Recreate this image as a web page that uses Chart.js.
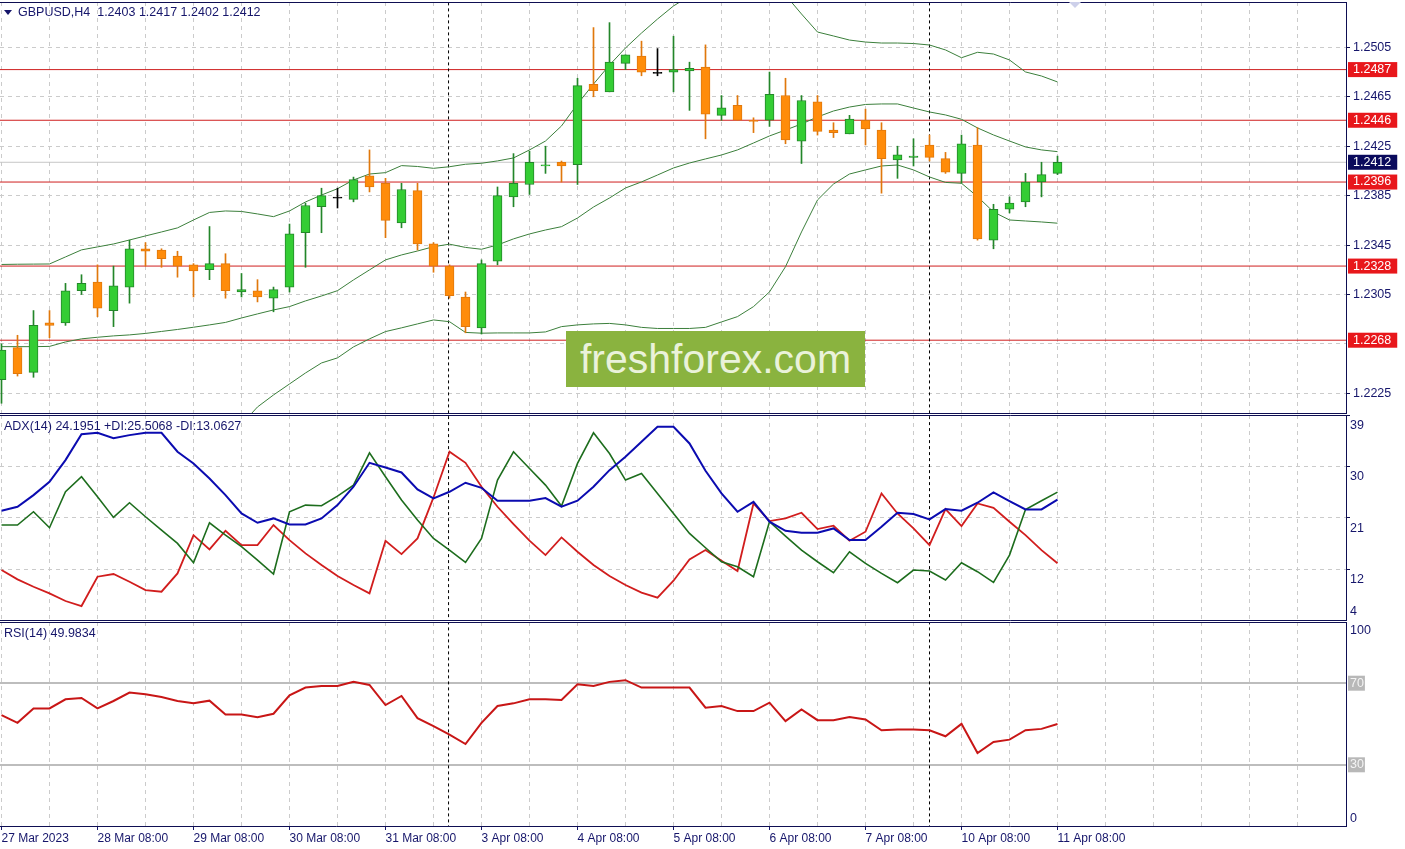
<!DOCTYPE html>
<html>
<head>
<meta charset="utf-8">
<script src="https://cdn.jsdelivr.net/npm/chart.js@4.4.1/dist/chart.umd.min.js"></script>
<style>
  body { margin:0; background:#fff; width:1405px; height:849px; overflow:hidden; position:relative;
         font-family:"Liberation Sans", Arial, sans-serif; }
  canvas { position:absolute; left:0; }
  .txt { position:absolute; font-size:12.5px; line-height:14px; color:#16166b; white-space:pre; }
  #mark { position:absolute; left:566px; top:331px; width:299px; height:56px; background:#8ab33f;
          color:#eaf2da; font-size:41px; line-height:56px; text-align:center; }
  #tri { position:absolute; left:4px; top:10px; width:0; height:0;
         border-left:4px solid transparent; border-right:4px solid transparent; border-top:5px solid #16166b; }
  #shift { position:absolute; left:1069px; top:2px; width:0; height:0;
           border-left:6px solid transparent; border-right:6px solid transparent; border-top:6px solid #cdd0ea; }
</style>
</head>
<body>
<canvas id="price" width="1405" height="415" style="top:0;width:1405px;height:415px"></canvas>
<canvas id="adx" width="1405" height="210" style="top:414px;width:1405px;height:210px"></canvas>
<canvas id="rsi" width="1405" height="229" style="top:620px;width:1405px;height:229px"></canvas>
<div id="tri"></div>
<div class="txt" style="left:18px;top:5px">GBPUSD,H4  1.2403 1.2417 1.2402 1.2412</div>
<div class="txt" style="left:4px;top:419px">ADX(14) 24.1951 +DI:25.5068 -DI:13.0627</div>
<div class="txt" style="left:4px;top:626px">RSI(14) 49.9834</div>
<div id="shift"></div>
<div id="mark">freshforex.com</div>
<script>
// GBPUSD H4, bar 0 = 27 Mar 08:00, bar 66 = 11 Apr 08:00
var opens  = [1.2236,1.2262,1.2242,1.2282,1.2282,1.2308,1.2315,1.2292,1.2311,1.2342,
              1.2341,1.2336,1.2329,1.2325,1.2330,1.2307,1.2308,1.2302,1.2311,1.2355,
              1.2376,1.2383,1.2382,1.2401,1.2395,1.2363,1.2389,1.2346,1.2328,1.2303,
              1.2278,1.2332,1.2384,1.2394,1.2409,1.2412,1.2410,1.2475,1.2469,1.2492,
              1.2498,1.2484,1.2485,1.2486,1.2489,1.2450,1.2458,1.2446,1.2446,1.2466,
              1.2429,1.2461,1.2438,1.2435,1.2446,1.2438,1.2414,1.2416,1.2426,1.2415,
              1.2403,1.2426,1.2349,1.2374,1.2380,1.2396,1.2403];
var highs  = [1.2265,1.2272,1.2292,1.2292,1.2314,1.2321,1.2329,1.2328,1.2349,1.2347,
              1.2342,1.2340,1.2330,1.2360,1.2338,1.2322,1.2317,1.2311,1.2362,1.2379,
              1.2391,1.2391,1.2400,1.2422,1.2399,1.2395,1.2395,1.2347,1.2329,1.2307,
              1.2333,1.2392,1.2419,1.2421,1.2425,1.2413,1.2480,1.2521,1.2525,1.2499,
              1.2510,1.2504,1.2514,1.2493,1.2507,1.2466,1.2466,1.2448,1.2485,1.2480,
              1.2466,1.2466,1.2444,1.2450,1.2455,1.2444,1.2425,1.2431,1.2434,1.2420,
              1.2434,1.2440,1.2378,1.2384,1.2403,1.2412,1.2417];
var lows   = [1.2217,1.2239,1.2238,1.2270,1.2280,1.2305,1.2287,1.2279,1.2298,1.2328,
              1.2327,1.2319,1.2303,1.2317,1.2302,1.2303,1.2299,1.2291,1.2307,1.2327,
              1.2355,1.2375,1.2380,1.2388,1.2351,1.2359,1.2341,1.2323,1.2302,1.2274,
              1.2273,1.2329,1.2376,1.2386,1.2403,1.2396,1.2394,1.2465,1.2469,1.2487,
              1.2482,1.2482,1.2469,1.2454,1.2431,1.2446,1.2446,1.2436,1.2441,1.2427,
              1.2411,1.2434,1.2432,1.2435,1.2426,1.2387,1.2399,1.2409,1.2413,1.2403,
              1.2395,1.2349,1.2342,1.2371,1.2376,1.2384,1.2402];
var closes = [1.2260,1.2241,1.2280,1.2280,1.2308,1.2314,1.2294,1.2312,1.2342,1.2340,
              1.2334,1.2328,1.2324,1.2330,1.2308,1.2309,1.2303,1.2309,1.2354,1.2377,
              1.2385,1.2383,1.2398,1.2392,1.2365,1.2390,1.2346,1.2328,1.2304,1.2279,
              1.2330,1.2385,1.2395,1.2412,1.2410,1.2409,1.2474,1.2470,1.2493,1.2499,
              1.2485,1.2484,1.2487,1.2488,1.2451,1.2456,1.2446,1.2445,1.2467,1.2430,
              1.2462,1.2437,1.2436,1.2447,1.2439,1.2415,1.2418,1.2417,1.2416,1.2404,
              1.2427,1.2350,1.2374,1.2379,1.2396,1.2402,1.2412];

var bbUpper  = [1.23293,1.23295,1.23296,1.23297,1.23354,1.23411,1.23435,1.23459,1.23491,1.23524,
                1.23556,1.23589,1.23653,1.23714,1.23726,1.23722,1.23702,1.2368,1.23726,1.23799,
                1.23855,1.23906,1.23977,1.24025,1.24036,1.24093,1.24086,1.24071,1.24084,1.24104,
                1.24112,1.24131,1.24155,1.2422,1.24292,1.24414,1.24592,1.24753,1.24907,1.25045,
                1.25166,1.25279,1.25385,1.25465,1.25522,1.25554,1.2557,1.25579,1.25554,1.25473,
                1.2532,1.25174,1.25142,1.25109,1.25093,1.25085,1.25085,1.25081,1.25069,1.25029,
                1.24966,1.2501,1.24996,1.24948,1.24851,1.24818,1.2477];
var bbMiddle = [1.22628,1.22628,1.22628,1.2263,1.22666,1.22691,1.22704,1.22715,1.22723,1.22735,
                1.22751,1.22767,1.22785,1.22804,1.22824,1.2286,1.22893,1.22925,1.22952,1.22998,
                1.23038,1.23081,1.23168,1.23249,1.2333,1.2337,1.23402,1.23437,1.23457,1.23431,
                1.23416,1.23451,1.235,1.2354,1.23572,1.23599,1.23669,1.23758,1.23831,1.23912,
                1.23961,1.24017,1.24074,1.24114,1.24147,1.24179,1.2422,1.24276,1.24333,1.24381,
                1.2443,1.24487,1.24535,1.24567,1.24588,1.24592,1.24592,1.24559,1.24527,1.24503,
                1.24468,1.24398,1.24341,1.24292,1.24244,1.2422,1.24206];
var bbLower  = [1.21962,1.21962,1.21962,1.21962,1.21979,1.2197,1.21974,1.2197,1.21954,1.21946,
                1.21946,1.21946,1.21917,1.21895,1.21922,1.21999,1.2214,1.22237,1.22326,1.22415,
                1.22496,1.22537,1.22626,1.22691,1.2275,1.2278,1.22812,1.22844,1.2283,1.22743,
                1.22737,1.22739,1.22739,1.22739,1.22747,1.2279,1.22804,1.22812,1.22816,1.22804,
                1.22784,1.22775,1.22775,1.22775,1.22784,1.22828,1.22871,1.22952,1.23071,1.23275,
                1.23556,1.23815,1.23944,1.24025,1.24058,1.2409,1.24098,1.24058,1.24001,1.23957,
                1.2395,1.23842,1.23718,1.23653,1.23645,1.23637,1.23627];

var adxMain = [22.25,22.95,24.99,27.32,31.11,35.65,35.89,34.95,35.48,35.89,
               35.89,32.57,30.53,27.9,24.99,21.78,20.15,20.91,19.86,19.86,
               20.91,23.24,26.45,30.64,29.83,28.95,25.98,24.41,25.57,27.15,
               26.27,24.0,24.0,24.0,24.47,22.95,24.0,26.45,29.36,31.69,
               34.31,36.94,36.94,34.02,29.24,25.28,22.08,23.82,20.33,18.75,
               18.4,18.4,19.16,17.12,17.12,19.45,21.9,21.67,20.74,22.54,
               22.25,23.65,25.46,23.94,22.48,22.48,24.2];
var plusDI  = [19.75,19.75,22.08,19.28,25.57,28.2,24.7,21.09,23.65,21.2,
               18.87,16.54,13.16,20.15,17.98,15.96,13.63,11.18,22.08,23.24,
               23.12,24.82,26.74,32.39,28.2,24.12,20.62,17.41,15.37,13.22,
               17.41,27.61,32.57,29.65,26.74,23.07,30.53,35.89,32.27,27.61,
               28.78,25.28,21.78,18.29,15.78,13.33,12.46,10.71,20.33,17.82,
               15.37,13.33,11.41,15.08,13.04,11.29,9.66,11.88,11.7,10.13,
               13.16,11.59,9.72,14.5,22.48,24.0,25.51];
var minusDI = [11.88,10.25,8.96,7.8,6.46,5.58,10.71,11.18,9.84,8.38,
               8.09,11.29,17.98,15.49,18.75,16.25,16.25,19.75,17.12,14.79,
               12.75,10.83,9.26,7.8,17.01,14.67,17.41,24.58,32.57,30.64,
               26.45,22.95,19.92,17.01,14.5,17.59,15.08,12.75,10.83,9.26,
               7.92,7.04,10.01,13.74,15.37,13.51,11.7,23.53,20.44,20.91,
               21.9,19.05,19.63,17.01,18.58,25.28,21.78,19.16,16.25,22.54,
               19.57,23.53,22.77,20.33,17.98,15.37,13.06];
var rsiLine = [54.36,50.57,57.65,57.65,62.09,62.75,57.65,61.27,65.39,64.56,
               63.25,61.27,60.12,61.44,54.69,54.69,53.37,55.02,64.07,67.86,
               68.68,68.68,70.65,69.17,59.3,63.74,52.88,48.93,44.81,40.2,
               50.57,58.8,60.12,62.09,62.09,61.76,69.5,68.68,70.65,71.48,
               67.86,67.86,67.86,67.86,57.98,58.8,56.33,56.33,60.45,51.39,
               57.16,51.89,51.89,53.37,52.22,46.95,47.28,47.28,46.95,43.99,
               50.08,35.76,41.19,42.34,46.95,47.61,49.98];

var levels      = [1.2487, 1.2446, 1.2396, 1.2328, 1.2268];
var lastPrice   = 1.2412;
var priceTicks  = [1.2505, 1.2465, 1.2425, 1.2385, 1.2345, 1.2305, 1.2265, 1.2225];
var hiddenTicks = [1.2265];
// ADX scale: grid ticks plus where the bottom "4" caption sits
var adxTicks    = [39, 30, 21, 12, 6.38];
var adxTickText = ['39', '30', '21', '12', '4'];
var adxGrid     = [30, 21, 12];
// RSI scale: caption positions for 100 / 0 sit just inside the panel
var rsiTicks    = [95.7, 70, 30, 3.8];
var rsiTickText = ['100', '70', '30', '0'];
var rsiLevels   = [70, 30];
var timeLabels  = ['27 Mar 2023', '28 Mar 08:00', '29 Mar 08:00', '30 Mar 08:00', '31 Mar 08:00',
                   '3 Apr 08:00', '4 Apr 08:00', '5 Apr 08:00', '6 Apr 08:00', '7 Apr 08:00',
                   '10 Apr 08:00', '11 Apr 08:00'];
var separators  = [27.94, 58];

var NAVY = '#16166b';
var FRAME = '#0e0e52';
var GRID = '#cbcbcb';
var NONE = 'rgba(0,0,0,0)';

Chart.defaults.font.family = '"Liberation Sans", Arial, sans-serif';

function pts(arr) {
  return arr.map(function(v, i) { return {x: i, y: v}; });
}
function tickVal(ctx) {
  return ctx.tick ? ctx.tick.value : null;
}

var bodyFill = opens.map(function(o, i) {
  return closes[i] > o ? '#34cd34' : (closes[i] < o ? '#ff8c0a' : '#000000');
});
var bodyEdge = opens.map(function(o, i) {
  return closes[i] > o ? '#23862a' : (closes[i] < o ? '#e0780c' : '#000000');
});

// panel borders (top, bottom, right axis line)
var frame = {
  id: 'frame',
  afterDraw: function(chart) {
    var a = chart.chartArea, c = chart.ctx;
    c.save();
    c.strokeStyle = FRAME;
    c.lineWidth = 1;
    c.beginPath();
    c.moveTo(a.left, a.top + 0.5); c.lineTo(a.right + 1, a.top + 0.5);
    c.moveTo(a.left, a.bottom + 0.5); c.lineTo(a.right + 1, a.bottom + 0.5);
    c.moveTo(a.right + 0.5, a.top); c.lineTo(a.right + 0.5, a.bottom + 1);
    c.stroke();
    c.restore();
  }
};

function noPad(s) {
  s.paddingTop = 0; s.paddingBottom = 0; s.paddingLeft = 0; s.paddingRight = 0;
}

function xAxis(withLabels) {
  return {
    type: 'linear', min: -0.09375, max: 84.03125, offset: false,
    afterBuildTicks: function(s) {
      var t = [];
      for (var v = 0; v <= 81; v += 3) t.push({value: v});
      s.ticks = t;
    },
    afterFit: function(s) { s.height = withLabels ? 23 : 0; noPad(s); },
    grid: {
      offset: false, color: GRID, lineWidth: 1, drawTicks: withLabels, tickLength: 4,
      tickColor: function(ctx) {
        var v = tickVal(ctx);
        return (v !== null && v % 6 === 0 && timeLabels[v / 6]) ? NAVY : NONE;
      }
    },
    border: { display: false, dash: [4, 4] },
    ticks: {
      display: withLabels, autoSkip: false, maxRotation: 0, minRotation: 0, align: 'start',
      padding: 1, color: NAVY, font: { size: 12 },
      callback: function(v) { return (v % 6 === 0 && timeLabels[v / 6]) || ''; }
    }
  };
}

function baseOptions(x, y, pad) {
  return {
    responsive: false, animation: false, events: [],
    layout: { padding: pad, autoPadding: false },
    plugins: { legend: { display: false }, tooltip: { enabled: false } },
    scales: { x: x, y: y }
  };
}

function flatLine(value, color, width) {
  return { type: 'line', data: [{x: -5, y: value}, {x: 90, y: value}], borderColor: color,
           borderWidth: width, pointRadius: 0, order: 5 };
}
function vLine(xv, lo, hi) {
  return { type: 'line', data: [{x: xv, y: lo}, {x: xv, y: hi}], borderColor: '#000000',
           borderWidth: 1, borderDash: [3, 3], pointRadius: 0, order: 4 };
}

// ---------- price panel ----------
var priceSets = [
  { type: 'bar', data: opens.map(function(o, i) { return {x: i, y: [o, closes[i]]}; }),
    backgroundColor: bodyFill, borderColor: bodyEdge, borderWidth: 1, borderSkipped: false,
    barThickness: 9, minBarLength: 1, grouped: false, order: 0 },
  { type: 'bar', data: lows.map(function(l, i) { return {x: i, y: [l, highs[i]]}; }),
    backgroundColor: bodyEdge, borderWidth: 0, barThickness: 1, grouped: false, order: 1 },
  { type: 'line', data: pts(bbUpper), borderColor: '#3b7f3b', borderWidth: 1, pointRadius: 0, order: 2 },
  { type: 'line', data: pts(bbMiddle), borderColor: '#3b7f3b', borderWidth: 1, pointRadius: 0, order: 2 },
  { type: 'line', data: pts(bbLower), borderColor: '#3b7f3b', borderWidth: 1, pointRadius: 0, order: 2 },
  flatLine(lastPrice, '#c6c6c6', 1)
];
levels.forEach(function(lv) { priceSets.push(flatLine(lv, '#cf1f1f', 1)); });
separators.forEach(function(s) { priceSets.push(vLine(s, 1.2, 1.3)); });

function isLevel(v) { return levels.indexOf(v) >= 0; }
function isPlain(v) { return priceTicks.indexOf(v) >= 0; }

new Chart(document.getElementById('price'), {
  type: 'line',
  data: { datasets: priceSets },
  options: baseOptions(xAxis(false), {
    position: 'right', min: 1.22091, max: 1.25417,
    afterBuildTicks: function(s) {
      s.ticks = priceTicks.concat(levels, [lastPrice]).map(function(v) { return {value: v}; });
    },
    afterFit: function(s) { s.width = 59; noPad(s); },
    grid: {
      lineWidth: 1, drawTicks: true, tickLength: 4,
      color: function(ctx) { return isPlain(tickVal(ctx)) ? GRID : NONE; },
      tickColor: function(ctx) { return isPlain(tickVal(ctx)) && hiddenTicks.indexOf(tickVal(ctx)) < 0 ? FRAME : NONE; }
    },
    border: { display: false, dash: [4, 4] },
    ticks: {
      autoSkip: false, padding: 3, font: { size: 12.5 },
      color: function(ctx) { return isPlain(tickVal(ctx)) ? NAVY : '#ffffff'; },
      showLabelBackdrop: function(ctx) { return !isPlain(tickVal(ctx)); },
      backdropColor: function(ctx) { return isLevel(tickVal(ctx)) ? '#e8171b' : '#0a0a5c'; },
      backdropPadding: { left: 5, right: 6, top: 0, bottom: 0 },
      callback: function(v) { return hiddenTicks.indexOf(v) >= 0 ? '' : v.toFixed(4); }
    }
  }, { top: 2, bottom: 2, left: 0, right: 0 }),
  plugins: [frame]
});

// ---------- ADX panel ----------
var adxSets = [
  { type: 'line', data: pts(minusDI), borderColor: '#d11d1d', borderWidth: 1.8, pointRadius: 0, order: 2 },
  { type: 'line', data: pts(plusDI), borderColor: '#1d6d1d', borderWidth: 1.6, pointRadius: 0, order: 1 },
  { type: 'line', data: pts(adxMain), borderColor: '#0b0bb0', borderWidth: 2, pointRadius: 0, order: 0 }
];
separators.forEach(function(s) { adxSets.push(vLine(s, -10, 60)); });

new Chart(document.getElementById('adx'), {
  type: 'line',
  data: { datasets: adxSets },
  options: baseOptions(xAxis(false), {
    position: 'right', min: 3.14, max: 39,
    afterBuildTicks: function(s) { s.ticks = adxTicks.map(function(v) { return {value: v}; }); },
    afterFit: function(s) { s.width = 59; noPad(s); },
    grid: {
      lineWidth: 1, drawTicks: true, tickLength: 4,
      color: function(ctx) { return adxGrid.indexOf(tickVal(ctx)) >= 0 ? GRID : NONE; },
      tickColor: function(ctx) { return adxGrid.indexOf(tickVal(ctx)) >= 0 || tickVal(ctx) === 39 ? FRAME : NONE; }
    },
    border: { display: false, dash: [4, 4] },
    ticks: {
      autoSkip: false, padding: 0, color: NAVY, font: { size: 12.5 }, labelOffset: 10.5,
      callback: function(v, i) { return adxTickText[i]; }
    }
  }, { top: 1, bottom: 4, left: 0, right: 0 }),
  plugins: [frame]
});

// ---------- RSI panel ----------
var rsiSets = [
  { type: 'line', data: pts(rsiLine), borderColor: '#c81616', borderWidth: 2, pointRadius: 0, order: 0 }
];
separators.forEach(function(s) { rsiSets.push(vLine(s, -10, 110)); });

function isRsiLevel(v) { return rsiLevels.indexOf(v) >= 0; }

new Chart(document.getElementById('rsi'), {
  type: 'line',
  data: { datasets: rsiSets },
  options: baseOptions(xAxis(true), {
    position: 'right', min: 0, max: 100,
    afterBuildTicks: function(s) { s.ticks = rsiTicks.map(function(v) { return {value: v}; }); },
    afterFit: function(s) { s.width = 59; noPad(s); },
    grid: {
      drawTicks: true, tickLength: 4, tickColor: NONE,
      lineWidth: function(ctx) { return isRsiLevel(tickVal(ctx)) ? 2 : 1; },
      color: function(ctx) { return isRsiLevel(tickVal(ctx)) ? '#bdbdbd' : NONE; }
    },
    border: { display: false },
    ticks: {
      autoSkip: false, padding: 0, font: { size: 12.5 },
      color: function(ctx) { return isRsiLevel(tickVal(ctx)) ? '#f4f4f4' : NAVY; },
      showLabelBackdrop: function(ctx) { return isRsiLevel(tickVal(ctx)); },
      backdropColor: '#b8b8b8',
      backdropPadding: { left: 2, right: 1, top: 0, bottom: 0 },
      callback: function(v, i) { return rsiTickText[i]; }
    }
  }, { top: 2, bottom: 0, left: 0, right: 0 }),
  plugins: [frame]
});
</script>
</body>
</html>
